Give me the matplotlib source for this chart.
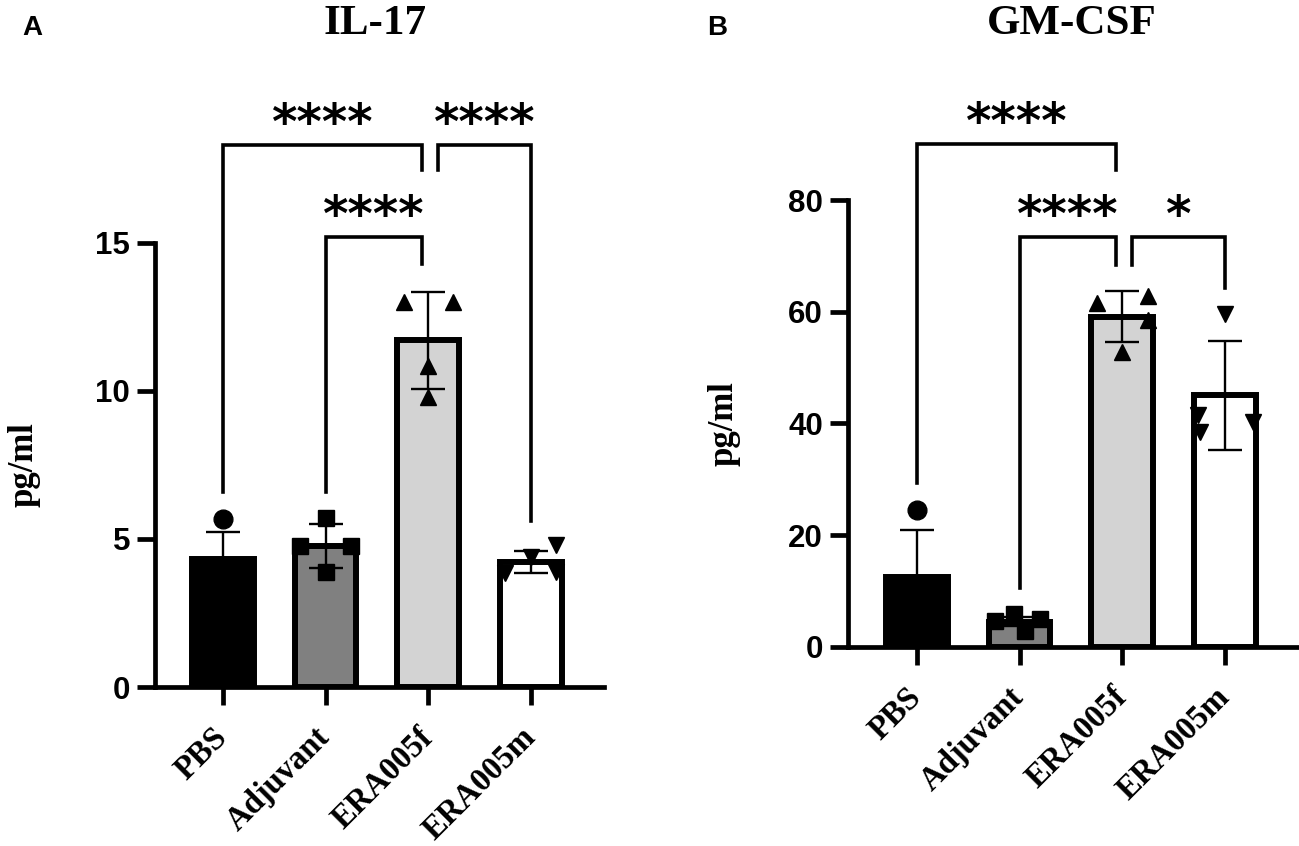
import matplotlib
matplotlib.use("Agg")
import matplotlib.pyplot as plt
import numpy as np

# ---------------- data ----------------
groups = ["PBS", "Adjuvant", "ERA005f", "ERA005m"]
bar_colors = ["#000000", "#808080", "#d3d3d3", "#ffffff"]
point_markers = ["o", "s", "^", "v"]

il17_mean = [4.32, 4.76, 11.72, 4.22]
il17_sd = [0.92, 0.74, 1.64, 0.38]
il17_pbs = [5.68, 3.9, 3.8, 3.9]
il17_adj = [5.7, 3.9, 4.75, 4.75]
il17_f = [13.0, 13.0, 10.86, 9.8]
il17_m = [4.8, 4.4, 3.85, 3.9]

gm_mean = [12.5, 4.5, 59.1, 45.0]
gm_sd = [8.4, 0.8, 4.6, 9.8]
gm_pbs = [24.5, 8.8, 8.5, 8.2]
gm_adj = [5.9, 4.6, 4.9, 2.8]
gm_f = [61.6, 62.8, 58.6, 52.7]
gm_m = [59.6, 41.5, 38.5, 40.3]

# horizontal scatter offsets of the individual points (layout only)
il17_offsets = [[0, -0.22, 0.22, 0], [0, 0, -0.25, 0.25], [-0.24, 0.24, 0, 0], [0.24, 0, -0.25, 0.24]]
gm_offsets = [[0, -0.22, 0.22, 0], [-0.05, -0.24, 0.2, 0.05], [-0.25, 0.25, 0.25, 0], [0, -0.26, -0.24, 0.27]]

# significance: (i, j, bracket y, drop end i, drop end j, label)
il17_sig = [(0, 2, 18.3, 6.6, 17.45, "****"), (2, 3, 18.3, 17.45, 5.6, "****"), (1, 2, 15.2, 6.6, 14.3, "****")]
gm_sig = [(0, 2, 90.0, 29.3, 85.4, "****"), (1, 2, 73.4, 10.5, 68.3, "****"), (2, 3, 73.4, 68.3, 64.2, "*")]

W, H = 1299, 846
fig = plt.figure(figsize=(W / 100, H / 100), dpi=100)

SERIF = "Liberation Serif"
SANS = "Liberation Sans"


def px(x, y):
    return x / W, 1 - y / H


def panel(rect, means, sds, pts_list, offsets, sig, ylim, yticks, xlim):
    ax = fig.add_axes(rect)
    x = np.arange(len(groups))
    ax.bar(x, means, width=0.6, color=bar_colors, edgecolor="black", linewidth=4.3, zorder=2)
    ax.errorbar(x, means, yerr=sds, fmt="none", ecolor="black", elinewidth=1.7,
                capsize=12, capthick=1.7, zorder=3)
    for i, (pts, offs) in enumerate(zip(pts_list, offsets)):
        ms = 13.5 if point_markers[i] == "o" else 12.2
        ax.plot(x[i] + np.array(offs), pts, ls="none", marker=point_markers[i], ms=ms,
                color="black", mec="black", zorder=4, clip_on=False)
    for (i, j, yb, yi, yj, lab) in sig:
        if i == 2:
            xi = x[i] + 0.09
            xj = x[j]
        else:
            xi = x[i]
            xj = x[j] - 0.06
        ax.plot([xi, xi, xj, xj], [yi, yb, yb, yj], color="black", lw=2.6,
                solid_joinstyle="miter", zorder=5, clip_on=False)
        ax.annotate(lab, xy=((xi + xj) / 2, yb), xytext=(0, 6), textcoords="offset pixels",
                    ha="center", va="baseline", fontsize=35, fontweight="bold",
                    family="DejaVu Sans")
    ax.set_xlim(*xlim)
    ax.set_ylim(*ylim)
    for s in ["top", "right"]:
        ax.spines[s].set_visible(False)
    for s in ["left", "bottom"]:
        ax.spines[s].set_linewidth(3.4)
        ax.spines[s].set_capstyle("projecting")
    ax.spines["left"].set_bounds(0, yticks[-1])
    ax.set_yticks(yticks)
    ax.set_yticklabels([str(t) for t in yticks], fontfamily=SANS, fontweight="bold", fontsize=22.5)
    ax.set_xticks(x)
    ax.set_xticklabels(groups, rotation=45, ha="right", va="center", rotation_mode="anchor",
                       fontfamily=SERIF, fontweight="bold", fontsize=23.5)
    ax.tick_params(axis="both", width=3.4, length=13)
    ax.tick_params(axis="y", pad=5)
    ax.tick_params(axis="x", pad=20)
    ax.patch.set_alpha(0)
    return ax


# Panel A
y0a, ppua = 687, 29.6
topa = 20.0
ax1 = panel([155 / W, 1 - y0a / H, 449 / W, topa * ppua / H], il17_mean, il17_sd,
            [il17_pbs, il17_adj, il17_f, il17_m], il17_offsets, il17_sig,
            (0, topa), [0, 5, 10, 15], (-0.66, 3.71))

# Panel B
y0b, ppub = 646.7, 5.583
topb = 100.0
ax2 = panel([848 / W, 1 - y0b / H, 452 / W, topb * ppub / H], gm_mean, gm_sd,
            [gm_pbs, gm_adj, gm_f, gm_m], gm_offsets, gm_sig,
            (0, topb), [0, 20, 40, 60, 80], (-0.67, 3.73))

# titles, panel letters, y labels
fig.text(*px(375, 24), "IL-17", ha="center", va="center", fontsize=31,
         fontweight="bold", family=SERIF)
fig.text(*px(1072, 24), "GM-CSF", ha="center", va="center", fontsize=31,
         fontweight="bold", family=SERIF)
fig.text(*px(32, 28), "A", ha="center", va="center", fontsize=20,
         fontweight="bold", family=SANS)
fig.text(*px(717, 28), "B", ha="center", va="center", fontsize=20,
         fontweight="bold", family=SANS)
fig.text(*px(24, 465), "pg/ml", ha="center", va="center", rotation=90, fontsize=25,
         fontweight="bold", family=SERIF)
fig.text(*px(724, 424), "pg/ml", ha="center", va="center", rotation=90, fontsize=25,
         fontweight="bold", family=SERIF)

fig.savefig("out.png", dpi=100, facecolor="white")
